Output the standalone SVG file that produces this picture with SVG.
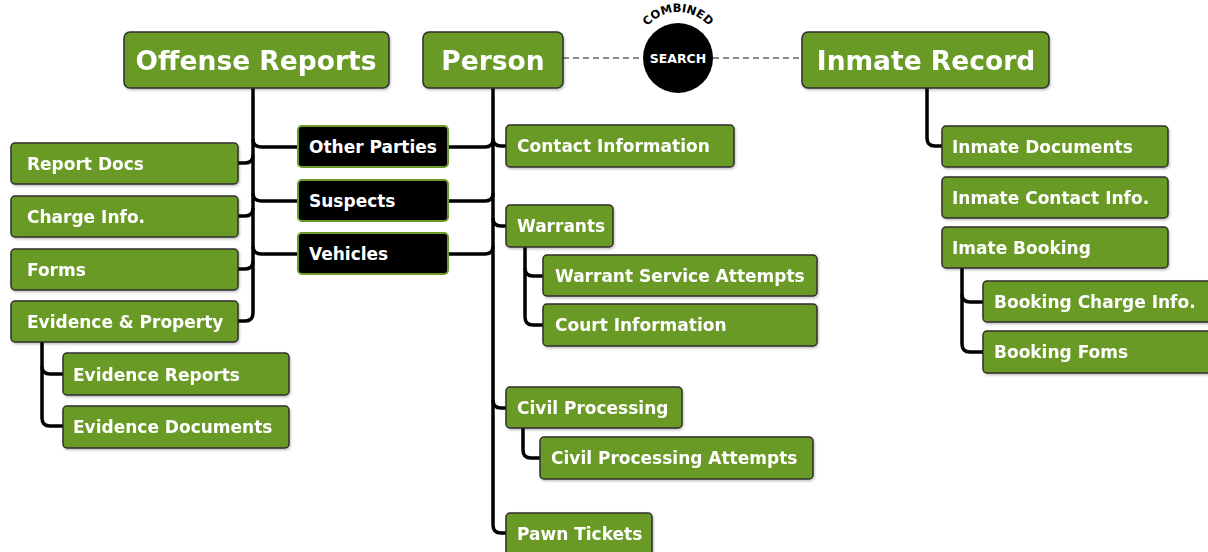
<svg xmlns="http://www.w3.org/2000/svg" width="1208" height="552" viewBox="0 0 1208 552">
  <defs>
    <style>
      .box { fill: #6b9a28; stroke: #2e2e2e; stroke-width: 1.5; }
      .dark { fill: #000; stroke: #6b9a28; stroke-width: 2; }
      .lbl { font-family: "DejaVu Sans", Verdana, sans-serif; font-weight: bold; font-size: 17px; fill: #fff; }
      .ttl { font-family: "DejaVu Sans", Verdana, sans-serif; font-weight: bold; font-size: 26.5px; fill: #fff; text-anchor: middle; }
      .wire { fill: none; stroke: #000; stroke-width: 3.5; stroke-linecap: butt; stroke-linejoin: round; }
      .dash { fill: none; stroke: #8a8a8a; stroke-width: 2; stroke-dasharray: 6 4; }
    </style>
    <filter id="shadow" x="-5%" y="-10%" width="110%" height="130%">
      <feDropShadow dx="1" dy="1.5" stdDeviation="1" flood-color="#000" flood-opacity="0.25"/>
    </filter>
    <path id="arcTop" d="M 638 52 A 40 40 0 0 1 718 52"/>
  </defs>

  <!-- connectors -->
  <g id="connectors">
    <line class="dash" x1="563" y1="58" x2="643" y2="58"/>
    <line class="dash" x1="713" y1="58" x2="802" y2="58"/>

    <!-- Offense Reports trunk -->
    <path class="wire" d="M253 88 V313 Q253 321 245 321 H238"/>
    <path class="wire" d="M238 163 H245 Q253 163 253 155"/>
    <path class="wire" d="M238 216 H245 Q253 216 253 208"/>
    <path class="wire" d="M238 269 H245 Q253 269 253 261"/>
    <path class="wire" d="M253 139 Q253 147 261 147 H298"/>
    <path class="wire" d="M253 193 Q253 201 261 201 H298"/>
    <path class="wire" d="M253 246 Q253 254 261 254 H298"/>

    <!-- Evidence & Property branch -->
    <path class="wire" d="M42 342 V418 Q42 426 50 426 H63"/>
    <path class="wire" d="M42 366 Q42 374 50 374 H63"/>

    <!-- parties to Person trunk -->
    <path class="wire" d="M448 147 H485 Q493 147 493 139"/>
    <path class="wire" d="M448 201 H485 Q493 201 493 193"/>
    <path class="wire" d="M448 254 H485 Q493 254 493 246"/>

    <!-- Person trunk -->
    <path class="wire" d="M493 88 V525 Q493 533 501 533 H506"/>
    <path class="wire" d="M493 138 Q493 146 501 146 H506"/>
    <path class="wire" d="M493 218 Q493 226 501 226 H506"/>
    <path class="wire" d="M493 400 Q493 408 501 408 H506"/>

    <!-- Warrants branch -->
    <path class="wire" d="M525 247 V317 Q525 325 533 325 H543"/>
    <path class="wire" d="M525 268 Q525 276 533 276 H543"/>

    <!-- Civil Processing branch -->
    <path class="wire" d="M523 428 V450 Q523 458 531 458 H540"/>

    <!-- Inmate Record trunk -->
    <path class="wire" d="M927 88 V138 Q927 146 935 146 H942"/>

    <!-- Booking branch -->
    <path class="wire" d="M962 268 V344 Q962 352 970 352 H983"/>
    <path class="wire" d="M962 294 Q962 302 970 302 H983"/>
  </g>

  <!-- top-level records -->
  <g id="offense-reports" filter="url(#shadow)">
    <rect class="box" x="124" y="32" width="265" height="56" rx="6"/>
    <text class="ttl" x="256" y="70">Offense Reports</text>
  </g>
  <g id="person" filter="url(#shadow)">
    <rect class="box" x="423" y="32" width="140" height="56" rx="6"/>
    <text class="ttl" x="493" y="70">Person</text>
  </g>
  <g id="inmate-record" filter="url(#shadow)">
    <rect class="box" x="802" y="32" width="247" height="56" rx="6"/>
    <text class="ttl" x="926" y="70">Inmate Record</text>
  </g>

  <!-- combined search badge -->
  <g id="combined-search">
    <circle cx="678" cy="58" r="35" fill="#000"/>
    <text font-family="DejaVu Sans, Verdana, sans-serif" font-weight="bold" font-size="12.5" fill="#fff" text-anchor="middle" x="678" y="63">SEARCH</text>
    <text font-family="DejaVu Sans, Verdana, sans-serif" font-weight="bold" font-size="11.5" fill="#000" text-anchor="middle">
      <textPath href="#arcTop" startOffset="50%">COMBINED</textPath>
    </text>
  </g>

  <!-- Offense Reports children -->
  <g id="report-docs" filter="url(#shadow)">
    <rect class="box" x="11" y="143" width="227" height="41" rx="4"/>
    <text class="lbl" x="27" y="170">Report Docs</text>
  </g>
  <g id="charge-info" filter="url(#shadow)">
    <rect class="box" x="11" y="196" width="227" height="41" rx="4"/>
    <text class="lbl" x="27" y="223">Charge Info.</text>
  </g>
  <g id="forms" filter="url(#shadow)">
    <rect class="box" x="11" y="249" width="227" height="41" rx="4"/>
    <text class="lbl" x="27" y="276">Forms</text>
  </g>
  <g id="evidence-property" filter="url(#shadow)">
    <rect class="box" x="11" y="301" width="227" height="41" rx="4"/>
    <text class="lbl" x="27" y="328">Evidence &amp; Property</text>
  </g>
  <g id="evidence-reports" filter="url(#shadow)">
    <rect class="box" x="63" y="353" width="226" height="42" rx="4"/>
    <text class="lbl" x="73" y="381">Evidence Reports</text>
  </g>
  <g id="evidence-documents" filter="url(#shadow)">
    <rect class="box" x="63" y="406" width="226" height="42" rx="4"/>
    <text class="lbl" x="73" y="433">Evidence Documents</text>
  </g>

  <!-- shared parties -->
  <g id="other-parties">
    <rect class="dark" x="298" y="126" width="150" height="41" rx="4"/>
    <text class="lbl" x="309" y="153">Other Parties</text>
  </g>
  <g id="suspects">
    <rect class="dark" x="298" y="180" width="150" height="41" rx="4"/>
    <text class="lbl" x="309" y="207">Suspects</text>
  </g>
  <g id="vehicles">
    <rect class="dark" x="298" y="233" width="150" height="41" rx="4"/>
    <text class="lbl" x="309" y="260">Vehicles</text>
  </g>

  <!-- Person children -->
  <g id="contact-information" filter="url(#shadow)">
    <rect class="box" x="506" y="125" width="228" height="42" rx="4"/>
    <text class="lbl" x="517" y="152">Contact Information</text>
  </g>
  <g id="warrants" filter="url(#shadow)">
    <rect class="box" x="506" y="205" width="107" height="42" rx="4"/>
    <text class="lbl" x="517" y="232">Warrants</text>
  </g>
  <g id="warrant-service-attempts" filter="url(#shadow)">
    <rect class="box" x="543" y="255" width="274" height="41" rx="4"/>
    <text class="lbl" x="555" y="282">Warrant Service Attempts</text>
  </g>
  <g id="court-information" filter="url(#shadow)">
    <rect class="box" x="543" y="304" width="274" height="42" rx="4"/>
    <text class="lbl" x="555" y="331">Court Information</text>
  </g>
  <g id="civil-processing" filter="url(#shadow)">
    <rect class="box" x="506" y="387" width="176" height="41" rx="4"/>
    <text class="lbl" x="517" y="414">Civil Processing</text>
  </g>
  <g id="civil-processing-attempts" filter="url(#shadow)">
    <rect class="box" x="540" y="437" width="273" height="42" rx="4"/>
    <text class="lbl" x="551" y="464">Civil Processing Attempts</text>
  </g>
  <g id="pawn-tickets" filter="url(#shadow)">
    <rect class="box" x="506" y="513" width="146" height="44" rx="4"/>
    <text class="lbl" x="517" y="540">Pawn Tickets</text>
  </g>

  <!-- Inmate Record children -->
  <g id="inmate-documents" filter="url(#shadow)">
    <rect class="box" x="942" y="126" width="226" height="41" rx="4"/>
    <text class="lbl" x="952" y="153">Inmate Documents</text>
  </g>
  <g id="inmate-contact-info" filter="url(#shadow)">
    <rect class="box" x="942" y="177" width="226" height="41" rx="4"/>
    <text class="lbl" x="952" y="204">Inmate Contact Info.</text>
  </g>
  <g id="imate-booking" filter="url(#shadow)">
    <rect class="box" x="942" y="227" width="226" height="41" rx="4"/>
    <text class="lbl" x="952" y="254">Imate Booking</text>
  </g>
  <g id="booking-charge-info" filter="url(#shadow)">
    <rect class="box" x="983" y="281" width="228" height="41" rx="4"/>
    <text class="lbl" x="994" y="308">Booking Charge Info.</text>
  </g>
  <g id="booking-foms" filter="url(#shadow)">
    <rect class="box" x="983" y="331" width="228" height="42" rx="4"/>
    <text class="lbl" x="994" y="358">Booking Foms</text>
  </g>
</svg>
